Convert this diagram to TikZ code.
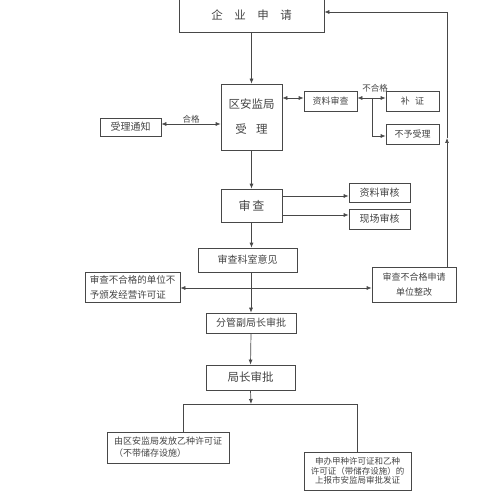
\documentclass[tikz,border=0pt]{standalone}
\usepackage{fontspec}
\setmainfont{Noto Sans CJK SC}
\usetikzlibrary{arrows.meta}
\definecolor{linec}{HTML}{484848}
\definecolor{txtc}{HTML}{444444}
\newcommand{\setfs}[2]{\fontsize{#1}{#2}\selectfont}
\begin{document}
\begin{tikzpicture}[x=1pt,y=-1pt,line width=.7pt,color=linec,
    >={Latex[length=5pt,width=4pt]},
    box/.style={draw=linec,text=txtc,inner sep=0pt,align=center},
    lbl/.style={text=txtc,inner sep=0pt,font=\setfs{8.5}{10}}]
    \useasboundingbox (0,0) rectangle (500,497);
    % boxes
    \node[box,minimum width=145pt,minimum height=34pt,font=\setfs{11.5}{14}] (qy) at (251.5,15) {企\quad 业\quad 申\quad 请};
    \node[box,minimum width=61pt,minimum height=66pt,font=\setfs{11.5}{14}] (ja) at (251.5,117) {区安监局\\[11pt]受\hspace{.8em}理};
    \node[box,minimum width=53pt,minimum height=20pt,font=\setfs{9}{11}] (zlsc) at (330.5,101) {资料审查};
    \node[box,minimum width=53pt,minimum height=20pt,font=\setfs{9}{11}] (bz) at (412.5,101) {补\hspace{.6em}证};
    \node[box,minimum width=53pt,minimum height=20pt,font=\setfs{9}{11}] (byl) at (412.5,134) {不予受理};
    \node[box,minimum width=61pt,minimum height=18pt,font=\setfs{10}{12}] (sltz) at (130.5,127) {受理通知};
    \node[box,minimum width=61pt,minimum height=33pt,font=\setfs{12}{14}] (sc) at (251.5,205.5) {审\hspace{.15em}查};
    \node[box,minimum width=61pt,minimum height=19pt,font=\setfs{10}{12}] (zlsh) at (379.5,192.5) {资料审核};
    \node[box,minimum width=61pt,minimum height=20pt,font=\setfs{10}{12}] (xcsh) at (379.5,219) {现场审核};
    \node[box,minimum width=99pt,minimum height=24pt,font=\setfs{10}{12}] (sckz) at (247.5,260) {审查科室意见};
    \node[box,minimum width=95pt,minimum height=30pt,font=\setfs{9.5}{15},align=left] (bhg) at (132.5,287) {审查不合格的单位不\\予颁发经营许可证};
    \node[box,minimum width=84pt,minimum height=35pt,font=\setfs{9}{15}] (zg) at (414,284.5) {审查不合格申请\\单位整改};
    \node[box,minimum width=90pt,minimum height=20pt,font=\setfs{10}{12}] (fg) at (251,323) {分管副局长审批};
    \node[box,minimum width=89pt,minimum height=25pt,font=\setfs{11.5}{14}] (jz) at (250.5,377.5) {局长审批};
    \node[box,minimum width=122pt,minimum height=31pt,font=\setfs{9}{12},align=left] (yz) at (168,447.5) {由区安监局发放乙种许可证\\（不带储存设施）};
    \node[box,minimum width=107pt,minimum height=38pt,font=\setfs{8.5}{9.6}] (jzz) at (357.5,471) {申办甲种许可证和乙种\\许可证（带储存设施）的\\上报市安监局审批发证};
    % labels
    \node[lbl] (hg) at (191,119) {合格};
    \node[lbl] (bhgl) at (375,88) {不合格};
    % helper points
    \coordinate (fz) at (372,98);
    \coordinate (fc) at (251,404);
    \coordinate (rm) at (447,138);
    % connectors
    \draw[->] (qy.south)-- (ja.north);
    \draw[<->] ([yshift=3pt]ja.east |- zlsc.west)-- ([yshift=3pt]zlsc.west);
    \draw[<->] ([yshift=3pt]zlsc.east)-- ([yshift=3pt]bz.west);
    \draw[->] (fz) |- ([yshift=-2pt]byl.west);
    \draw[<->] ([yshift=3pt]sltz.east)-- ([yshift=3pt]sltz.east -| ja.west);
    \draw[->] (ja.south)-- (sc.north);
    \draw[->] ([yshift=-3.5pt]sc.east |- zlsh.west)-- ([yshift=-3.5pt]zlsh.west);
    \draw[->] ([yshift=4pt]sc.east |- xcsh.west)-- ([yshift=4pt]xcsh.west);
    \draw[->] (sc.south)-- (sc.south |- sckz.north);
    \draw[->] (sckz.south -| fg.north)-- (fg.north);
    \draw[<->] ([yshift=-1pt]bhg.east)-- ([yshift=-1pt]bhg.east -| zg.west);
    \draw[->] (fg.south)-- (jz.north);
    \draw[->] (jz.south)-- (fc);
    \draw ([xshift=15pt]yz.north) |- (jzz.north |- fc)-- (jzz.north);
    \draw[->] ([xshift=33pt]zg.north)-- (rm);
    \draw[->] (rm) |- ([yshift=3pt]qy.east);
\end{tikzpicture}
\end{document}
